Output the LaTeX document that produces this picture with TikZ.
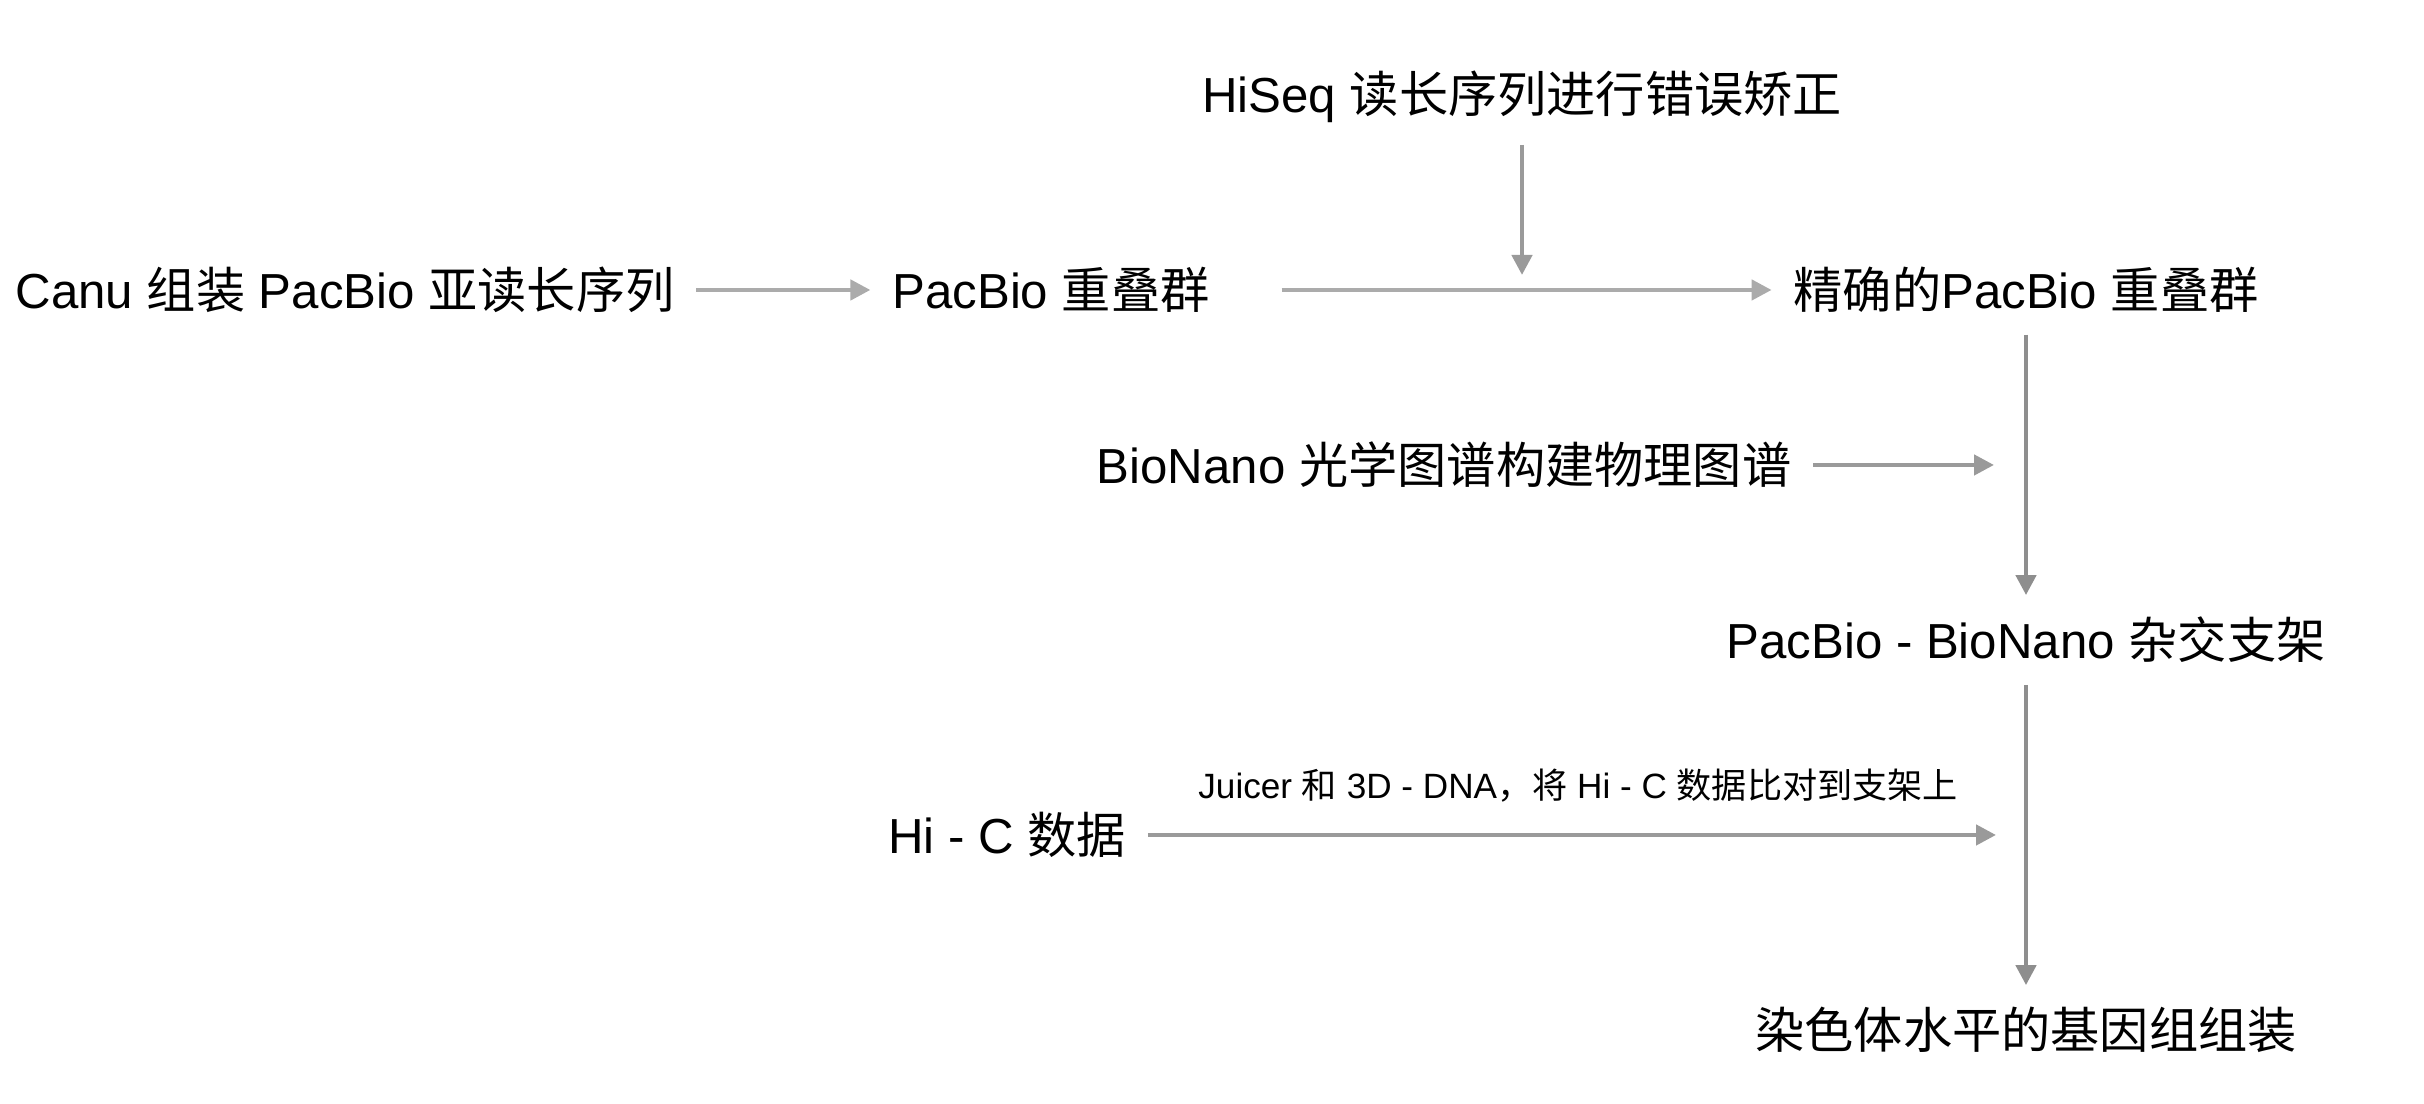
\documentclass[tikz,border=0pt]{standalone}
\usepackage{fontspec}
\setmainfont{Liberation Sans}
\newfontfamily\cjk{Noto Sans CJK SC}
\newcommand{\zh}[1]{{\cjk #1}}
\usetikzlibrary{arrows.meta}
\definecolor{lightline}{HTML}{ABABAB}
\definecolor{midline}{HTML}{9A9A9A}
\definecolor{darkline}{HTML}{8E8E8E}
\tikzset{
  stage/.style={inner sep=0.22cm, outer sep=0pt, font=\fontsize{14}{16}\selectfont},
  flow/.style={line width=0.045cm, -{Triangle[length=0.2cm,width=0.2cm]}},
}
\begin{document}
\begin{tikzpicture}
    \useasboundingbox (0,0) rectangle (24.24,11.04);

    % steps of the assembly
    \node[stage] (canu) at (3.45,8.14) {Canu \zh{组装} PacBio \zh{亚读长序列}};
    \node[stage] (pbcontig) at (10.51,8.14) {PacBio \zh{重叠群}};
    \node[stage] (accurate) at (20.26,8.14) {\zh{精确的}PacBio \zh{重叠群}};
    \node[stage] (hiseq) at (15.22,10.07) {HiSeq \zh{读长序列进行错误矫正}};
    \node[stage] (bionano) at (14.44,6.39) {BioNano \zh{光学图谱构建物理图谱}};
    \node[stage] (hybrid) at (20.26,4.64) {PacBio - BioNano \zh{杂交支架}};
    \node[stage] (hic) at (10.07,2.69) {Hi - C \zh{数据}};
    \node[stage] (final) at (20.26,0.74) {\zh{染色体水平的基因组组装}};

    % arrows
    \draw[flow, lightline] (canu) -- (pbcontig);
    \draw[flow, lightline, shorten <=0.5cm] (pbcontig) -- (accurate);
    \draw[flow, midline, shorten >=0.15cm] (hiseq) -- (hiseq |- pbcontig);
    \draw[flow, darkline] (accurate) -- (hybrid);
    \draw[flow, midline, shorten >=0.32cm] (bionano) -- (bionano -| accurate);
    \draw[flow, darkline] (hybrid) -- (final);
    \draw[flow, midline, shorten >=0.3cm] (hic) -- node[pos=0.49, above=0.3cm, inner sep=0pt, text=black, font=\fontsize{10}{12}\selectfont] (juicer) {Juicer \zh{和} 3D - DNA\zh{，将} Hi - C \zh{数据比对到支架上}} (hic -| hybrid);
\end{tikzpicture}
\end{document}
